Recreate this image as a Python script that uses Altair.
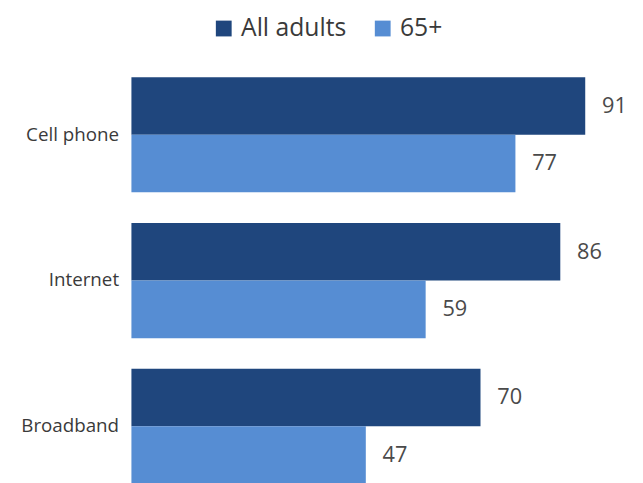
import altair as alt
import pandas as pd

categories = ["Cell phone", "Internet", "Broadband"]
series_names = ["All adults", "65+"]
all_adults = [91, 86, 70]
seniors_65 = [77, 59, 47]

colors = ["#1f467d", "#568dd3"]

rows = []
for c, a, s in zip(categories, all_adults, seniors_65):
    rows.append({"category": c, "series": series_names[0], "value": a})
    rows.append({"category": c, "series": series_names[1], "value": s})
df = pd.DataFrame(rows)

base = alt.Chart(df).encode(
    y=alt.Y(
        "category:N",
        sort=categories,
        scale=alt.Scale(range=[0, 412], paddingInner=0.21, paddingOuter=0),
        axis=alt.Axis(
            title=None, ticks=False, domain=False, tickSize=0,
            labelFont="Open Sans", labelFontSize=19, labelColor="#3a3a3a",
            labelPadding=13,
        ),
    ),
    yOffset=alt.YOffset("series:N", sort=series_names, scale=alt.Scale(paddingInner=0, paddingOuter=0)),
    x=alt.X("value:Q", scale=alt.Scale(domain=[0, 99]), axis=None),
)

bars = base.mark_bar().encode(
    color=alt.Color(
        "series:N",
        sort=series_names,
        scale=alt.Scale(domain=series_names, range=colors),
        legend=alt.Legend(
            title=None, orient="none", legendX=81, legendY=-62,
            direction="horizontal", symbolType="square", symbolSize=256,
            symbolStrokeWidth=0, labelFont="Open Sans", labelFontSize=25,
            labelColor="#3a3a3a", labelOffset=5, columnPadding=24,
        ),
    )
)

labels = base.mark_text(
    align="left", baseline="middle", dx=17,
    font="Open Sans", fontSize=22, color="#4a4a4a",
).encode(text="value:Q")

chart = (
    alt.layer(bars, labels)
    .properties(
        width=500,
        height=408,
        autosize=alt.AutoSizeParams(type="none"),
        padding={"left": 125, "top": 67, "right": 10, "bottom": 0},
        background="white",
    )
    .configure_view(stroke=None)
)

chart.save("out.html", embed_options={"renderer": "svg", "actions": False})
